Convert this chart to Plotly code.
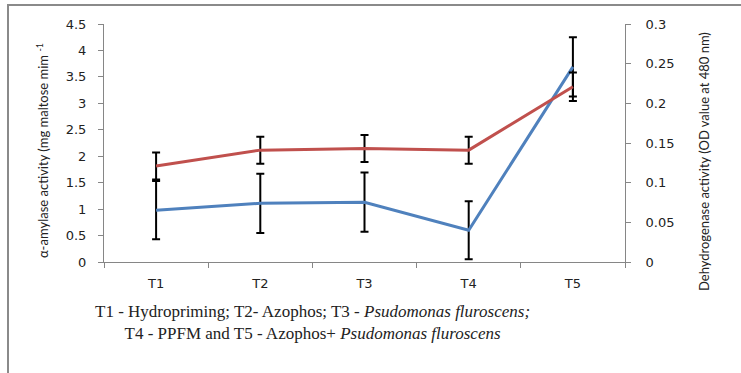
import plotly.graph_objects as go

categories = ["T1", "T2", "T3", "T4", "T5"]
amylase = [0.98, 1.11, 1.13, 0.60, 3.69]
amylase_err = [0.55, 0.56, 0.56, 0.55, 0.56]
dehydrogenase = [0.121, 0.141, 0.143, 0.141, 0.221]
dehydrogenase_err = [0.017, 0.017, 0.017, 0.017, 0.018]

left_title = "α-amylase activity (mg maltose mim <sup>-1</sup>"
right_title = "Dehydrogenase activity (OD value at 480 nm)"
caption = ("T1 - Hydropriming; T2- Azophos; T3 - <i>Psudomonas fluroscens;</i><br>"
           "T4 - PPFM and T5 - Azophos+ <i>Psudomonas fluroscens</i>")

W, H = 741, 373
L, R, T, B = 104, 625, 24, 262
pw, ph = R - L, B - T

def px(x):
    return (x - L) / pw

def py(y):
    return (B - y) / ph

fig = go.Figure()
fig.add_trace(go.Scatter(
    x=categories, y=dehydrogenase, yaxis="y2", mode="lines",
    line=dict(color="#C0504D", width=3),
    error_y=dict(type="data", array=dehydrogenase_err, color="black", thickness=2, width=4),
    showlegend=False))
fig.add_trace(go.Scatter(
    x=categories, y=amylase, mode="lines",
    line=dict(color="#4F81BD", width=3),
    error_y=dict(type="data", array=amylase_err, color="black", thickness=2, width=4),
    showlegend=False))

axis_col = "#868686"
tickfont = dict(family="DejaVu Sans", size=13, color="#222")

fig.update_layout(
    width=W, height=H,
    margin=dict(l=L, r=W - R, t=T, b=H - B),
    paper_bgcolor="white", plot_bgcolor="white",
    xaxis=dict(type="category", tickson="boundaries", ticks="outside", ticklen=5,
               tickcolor=axis_col, showline=True, linecolor=axis_col, linewidth=1,
               showgrid=False, zeroline=False, tickfont=tickfont,
               ticklabelstandoff=9, range=[-0.5, 4.5]),
    yaxis=dict(range=[0, 4.5], dtick=0.5, ticks="outside", ticklen=5,
               tickcolor=axis_col, showline=True, linecolor=axis_col, linewidth=1,
               showgrid=False, zeroline=False, tickfont=tickfont, ticklabelstandoff=9),
    yaxis2=dict(range=[0, 0.3], dtick=0.05, overlaying="y", side="right",
                ticks="outside", ticklen=5, tickcolor=axis_col, showline=True,
                linecolor=axis_col, linewidth=1, showgrid=False, zeroline=False,
                tickfont=tickfont, ticklabelstandoff=12),
    shapes=[dict(type="rect", xref="paper", yref="paper",
                 x0=px(8), x1=px(760), y0=py(400), y1=py(5),
                 line=dict(color="#8a8a8a", width=2), layer="below")],
    annotations=[
        dict(text=left_title, xref="paper", yref="paper", x=px(42), y=py(151),
             textangle=-90, showarrow=False, xanchor="center", yanchor="middle",
             font=dict(family="Lato", size=13, color="#222")),
        dict(text=right_title, xref="paper", yref="paper", x=px(704), y=py(162),
             textangle=-90, showarrow=False, xanchor="center", yanchor="middle",
             font=dict(family="Lato", size=13, color="#222")),
        dict(text=caption, xref="paper", yref="paper", x=px(312), y=py(322),
             showarrow=False, xanchor="center", yanchor="middle", align="center",
             font=dict(family="Liberation Serif", size=17, color="#222")),
    ],
)

fig.write_html("out.html", config={"displayModeBar": False},
               post_script="document.body.style.margin='0';")
